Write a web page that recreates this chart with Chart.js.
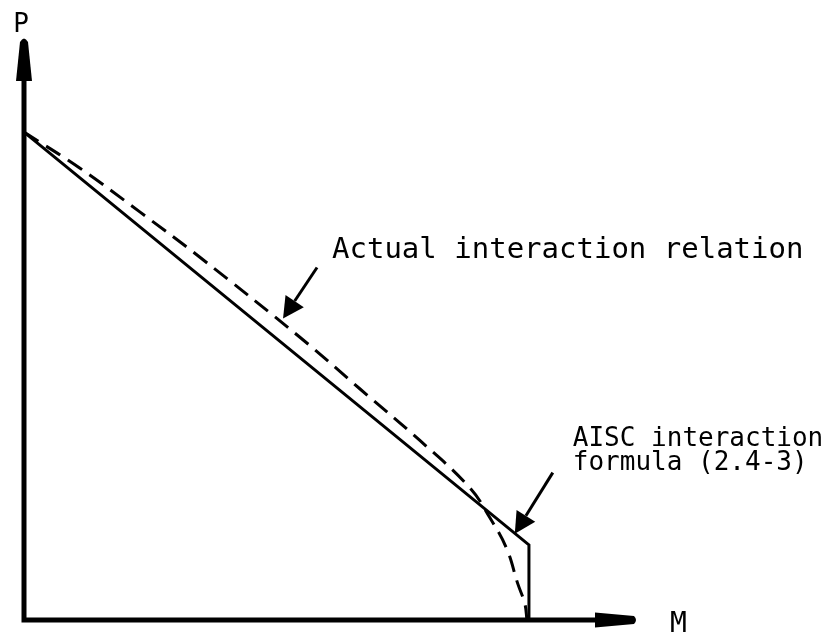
<!DOCTYPE html>
<html>
<head>
<meta charset="utf-8">
<script src="https://cdn.jsdelivr.net/npm/chart.js@4"></script>
<style>
  html, body { margin: 0; padding: 0; background: #fff; }
  canvas { display: block; }
</style>
</head>
<body>
<canvas id="interaction" width="840" height="637"></canvas>
<script>
// P–M interaction: AISC formula (2.4-3) vs. actual interaction relation
const aiscM = [0, 1.0, 1.0];
const aiscP = [1.0, 0.154, 0];

const actualM = [0, 0.111, 0.230, 0.349, 0.547, 0.665, 0.784, 0.883, 0.923, 0.956, 0.978, 0.992, 0.996];
const actualP = [1.0, 0.926, 0.836, 0.743, 0.579, 0.474, 0.368, 0.271, 0.209, 0.146, 0.074, 0.033, 0];

const axisLabels = ['P', 'M'];
const noteActual = ['Actual interaction relation'];
const noteAisc = ['AISC interaction', 'formula (2.4-3)'];

const MONO = '"DejaVu Sans Mono", "Liberation Mono", monospace';

const toPoints = (xs, ys) => xs.map((x, i) => ({ x, y: ys[i] }));

// filled arrowhead pointing from tail to tip
function arrow(ctx, tail, tip, len = 21, half = 11) {
    const dx = tip.x - tail.x, dy = tip.y - tail.y;
    const d = Math.hypot(dx, dy);
    const ux = dx / d, uy = dy / d;
    const bx = tip.x - ux * len, by = tip.y - uy * len;
    ctx.beginPath();
    ctx.moveTo(tail.x, tail.y);
    ctx.lineTo(bx, by);
    ctx.lineWidth = 3;
    ctx.stroke();
    ctx.beginPath();
    ctx.moveTo(tip.x, tip.y);
    ctx.lineTo(bx - uy * half, by + ux * half);
    ctx.lineTo(bx + uy * half, by - ux * half);
    ctx.closePath();
    ctx.fill();
}

const sketchAxes = {
    id: 'sketchAxes',
    afterDatasetsDraw(chart) {
        const { ctx, scales: { x, y } } = chart;
        const x0 = x.getPixelForValue(0), y0 = y.getPixelForValue(0);
        const xEnd = x.getPixelForValue(x.max), yEnd = y.getPixelForValue(y.max);

        ctx.save();
        ctx.strokeStyle = '#000';
        ctx.fillStyle = '#000';
        ctx.lineCap = 'butt';

        // axis lines
        ctx.lineWidth = 5;
        ctx.beginPath();
        ctx.moveTo(x0, y0 + 2.5);
        ctx.lineTo(x0, yEnd + 30);
        ctx.moveTo(x0 - 2.5, y0);
        ctx.lineTo(xEnd - 30, y0);
        ctx.stroke();

        // tapered arrowheads
        ctx.beginPath();
        ctx.moveTo(x0 - 8, yEnd + 44);
        ctx.lineTo(x0 - 4, yEnd + 5);
        ctx.quadraticCurveTo(x0, yEnd - 2, x0 + 4, yEnd + 5);
        ctx.lineTo(x0 + 8, yEnd + 44);
        ctx.closePath();
        ctx.fill();

        ctx.beginPath();
        ctx.moveTo(xEnd - 42, y0 - 7.5);
        ctx.lineTo(xEnd - 3, y0 - 4);
        ctx.quadraticCurveTo(xEnd + 1, y0, xEnd - 3, y0 + 4);
        ctx.lineTo(xEnd - 42, y0 + 7.5);
        ctx.closePath();
        ctx.fill();

        // axis letters
        ctx.textBaseline = 'alphabetic';
        ctx.textAlign = 'center';
        ctx.font = `26px ${MONO}`;
        ctx.fillText(axisLabels[0], x0 - 3, yEnd - 5);
        ctx.textAlign = 'left';
        ctx.font = `28px ${MONO}`;
        ctx.fillText(axisLabels[1], xEnd + 33, y0 + 12);

        // callout: actual relation
        const tipA = { x: x.getPixelForValue(0.513), y: y.getPixelForValue(0.618) };
        arrow(ctx, { x: tipA.x + 34, y: tipA.y - 51 }, tipA);
        ctx.font = `29px ${MONO}`;
        ctx.fillText(noteActual[0], tipA.x + 49, tipA.y - 60);

        // callout: AISC formula
        const tipB = { x: x.getPixelForValue(0.972), y: y.getPixelForValue(0.177) };
        arrow(ctx, { x: tipB.x + 38, y: tipB.y - 61 }, tipB);
        ctx.font = `26px ${MONO}`;
        noteAisc.forEach((t, i) => ctx.fillText(t, tipB.x + 58, tipB.y - 88 + i * 24));

        ctx.restore();
    },
};

new Chart(document.getElementById('interaction'), {
    type: 'scatter',
    data: {
        datasets: [
            {
                label: 'AISC interaction formula (2.4-3)',
                data: toPoints(aiscM, aiscP),
                showLine: true,
                borderColor: '#000',
                borderWidth: 3,
                pointRadius: 0,
                tension: 0,
            },
            {
                label: 'Actual interaction relation',
                data: toPoints(actualM, actualP),
                showLine: true,
                borderColor: '#000',
                borderWidth: 3,
                borderDash: [17, 9],
                pointRadius: 0,
                tension: 0.4,
            },
        ],
    },
    options: {
        responsive: false,
        animation: false,
        layout: { padding: { left: 24, right: 203, top: 37, bottom: 17 } },
        plugins: { legend: { display: false }, tooltip: { enabled: false } },
        scales: {
            x: { type: 'linear', display: false, min: 0, max: 1.214 },
            y: { type: 'linear', display: false, min: 0, max: 1.195 },
        },
    },
    plugins: [sketchAxes],
});
</script>
</body>
</html>
